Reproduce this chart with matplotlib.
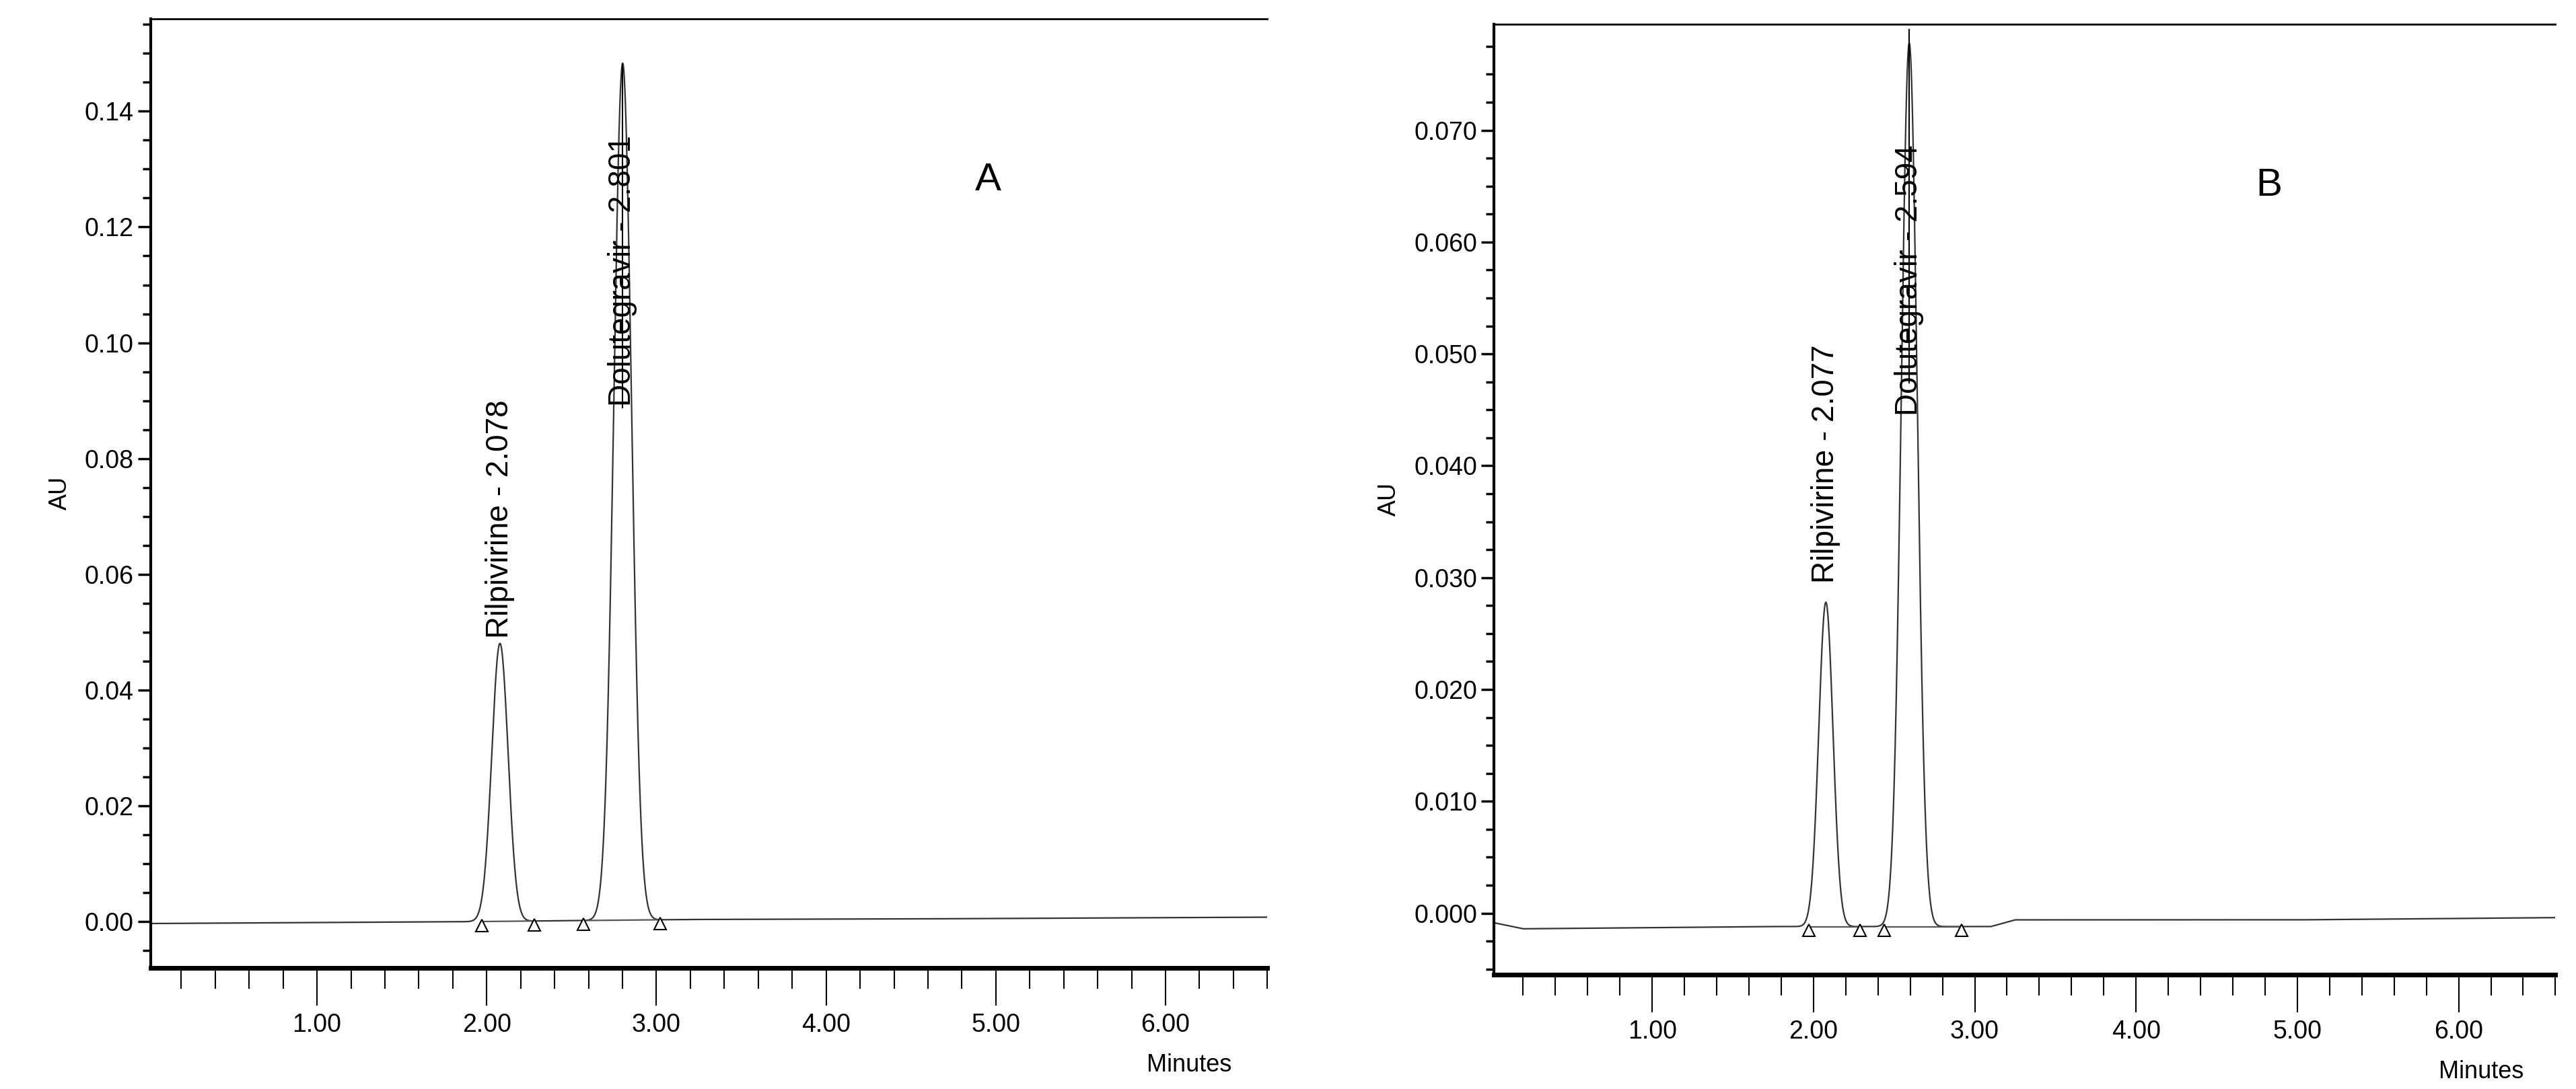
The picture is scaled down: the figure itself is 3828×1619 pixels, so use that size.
import numpy as np
import matplotlib
matplotlib.use("Agg")
import matplotlib.pyplot as plt
from matplotlib.ticker import MultipleLocator, FormatStrFormatter

plt.rcParams['font.family'] = ['Liberation Sans', 'DejaVu Sans']

# Panel A
a_names = ["Rilpivirine", "Dolutegravir"]
a_rt = [2.078, 2.801]
a_height = [0.048, 0.148]
a_sigma = [0.048, 0.052]
a_label_y = [0.049, 0.089]
a_marks = [1.97, 2.28, 2.57, 3.02]
a_base_t = [0.0, 1.8, 2.5, 3.2, 4.5, 6.6]
a_base_v = [-0.0003, 0.0, 0.0002, 0.0004, 0.0005, 0.0008]

# Panel B
b_names = ["Rilpivirine", "Dolutegravir"]
b_rt = [2.077, 2.594]
b_height = [0.029, 0.079]
b_sigma = [0.044, 0.049]
b_label_y = [0.0295, 0.0445]
b_marks = [1.97, 2.29, 2.44, 2.92]
b_base_t = [0.0, 0.2, 1.7, 3.1, 3.25, 5.0, 6.6]
b_base_v = [-0.0008, -0.0014, -0.0012, -0.0012, -0.0006, -0.0006, -0.0004]

fig = plt.figure(figsize=(38.28, 16.19), dpi=100)

def panel(rect, names, rt, height, sigma, label_y, marks, bt, bv,
          ylim, ymaj, ymin, yfmt, letter, letter_xy):
    ax = fig.add_axes(rect)
    t = np.linspace(0, 6.6, 4000)
    base = np.interp(t, bt, bv)
    y = base.copy()
    for r, h, s in zip(rt, height, sigma):
        y += h * np.exp(-0.5 * ((t - r) / s) ** 2)
    ax.plot(t, y, color='#333333', lw=1.6)
    for i in range(0, len(marks), 2):
        xs = [marks[i], marks[i + 1]]
        ax.plot(xs, np.interp(xs, bt, bv), color='#555555', lw=1.6)
    ax.plot(marks, np.interp(marks, bt, bv) - (ylim[1] - ylim[0]) * 0.004,
            linestyle='none', marker='^', ms=13, mfc='white', mec='black', mew=1.5)
    for n, r, ly in zip(names, rt, label_y):
        ax.text(r, ly, f"{n} - {r:.3f}", rotation=90, ha='center', va='bottom',
                fontsize=33, color='black')
    ax.plot([rt[1], rt[1]], [height[1] * 0.6, height[1]], color='black', lw=1.5)
    ax.set_xlim(0.02, 6.6)
    ax.set_ylim(*ylim)
    ax.xaxis.set_major_locator(MultipleLocator(1.0))
    ax.xaxis.set_minor_locator(MultipleLocator(0.2))
    ax.xaxis.set_major_formatter(FormatStrFormatter('%.2f'))
    ax.yaxis.set_major_locator(MultipleLocator(ymaj))
    ax.yaxis.set_minor_locator(MultipleLocator(ymin))
    ax.yaxis.set_major_formatter(FormatStrFormatter(yfmt))
    ax.tick_params(axis='x', which='major', direction='out', length=40, width=1.5,
                   labelsize=27, pad=8)
    ax.tick_params(axis='x', which='minor', direction='out', length=22, width=1.5)
    ax.tick_params(axis='y', which='major', direction='out', length=14, width=2.5,
                   labelsize=27, pad=4)
    ax.tick_params(axis='y', which='minor', direction='out', length=9, width=2.5)
    ax.spines['right'].set_visible(False)
    ax.spines['left'].set_linewidth(3)
    ax.spines['bottom'].set_linewidth(5)
    ax.spines['top'].set_linewidth(2)
    ax.set_ylabel("AU", fontsize=26, labelpad=14)
    ax.set_xlabel("Minutes", fontsize=26)
    ax.xaxis.set_label_coords(0.93, -0.09)
    ax.text(letter_xy[0], letter_xy[1], letter, transform=ax.transAxes,
            fontsize=42, ha='center', va='center')
    return ax

panel([0.0585, 0.111, 0.4335, 0.872], a_names, a_rt, a_height, a_sigma, a_label_y,
      a_marks, a_base_t, a_base_v, (-0.008, 0.156), 0.02, 0.005, '%.2f', 'A',
      (0.75, 0.83))
panel([0.580, 0.105, 0.412, 0.873], b_names, b_rt, b_height, b_sigma, b_label_y,
      b_marks, b_base_t, b_base_v, (-0.0055, 0.0795), 0.01, 0.0025, '%.3f', 'B',
      (0.73, 0.83))

fig.savefig("out.png", dpi=100)
